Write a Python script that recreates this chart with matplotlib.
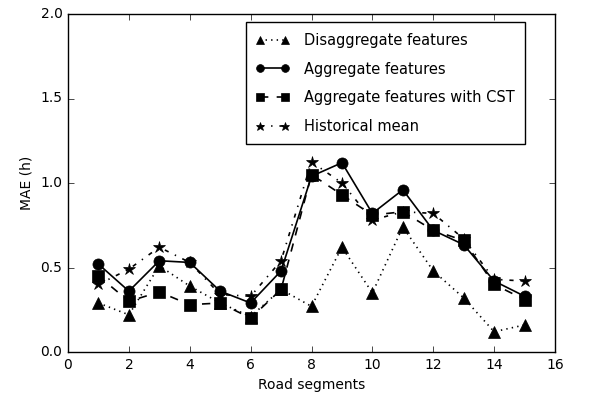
import numpy as np
import matplotlib
matplotlib.use('Agg')
import matplotlib.pyplot as plt

# --- Data ---
segments = np.arange(1, 16)
disaggregate = [0.29, 0.22, 0.51, 0.39, 0.29, 0.21, 0.37, 0.27, 0.62, 0.35, 0.74, 0.48, 0.32, 0.12, 0.16]
aggregate = [0.52, 0.36, 0.54, 0.53, 0.36, 0.29, 0.48, 1.04, 1.12, 0.82, 0.96, 0.72, 0.635, 0.42, 0.33]
aggregate_cst = [0.45, 0.30, 0.355, 0.28, 0.29, 0.20, 0.37, 1.05, 0.93, 0.81, 0.83, 0.72, 0.66, 0.40, 0.31]
historical = [0.40, 0.49, 0.62, 0.53, 0.34, 0.33, 0.54, 1.125, 1.00, 0.78, 0.83, 0.82, 0.67, 0.43, 0.42]

series = [
    ('Disaggregate features', disaggregate, '^', ':'),
    ('Aggregate features', aggregate, 'o', '-'),
    ('Aggregate features with CST', aggregate_cst, 's', '--'),
    ('Historical mean', historical, '*', '-.'),
]

plt.style.use('classic')
fig = plt.figure(figsize=(5.89, 3.98), dpi=100)
fig.patch.set_facecolor('white')
ax = fig.add_axes([68 / 589, 1 - 352 / 398, (555 - 68) / 589, (352 - 14) / 398])

for label, vals, marker, ls in series:
    ms = 9 if marker == '*' else 8
    ax.plot(segments, vals, color='black', linestyle=ls, marker=marker,
            markersize=ms, markerfacecolor='black', markeredgecolor='black',
            linewidth=1.2, label=label)

ax.set_xlim(0, 16)
ax.set_ylim(0, 2.0)
ax.set_xticks(np.arange(0, 17, 2))
ax.set_yticks([0.0, 0.5, 1.0, 1.5, 2.0])
ax.tick_params(labelsize=10)
ax.set_xlabel('Road segments', fontsize=10)
ax.set_ylabel('MAE (h)', fontsize=10)

ax.legend(loc='upper right', bbox_to_anchor=(0.938, 0.975), borderaxespad=0,
          fontsize=10.5, numpoints=2, frameon=True, fancybox=False,
          handlelength=2.3, handletextpad=1.0, borderpad=0.7,
          labelspacing=0.95, markerscale=0.7)

fig.savefig('out.png', dpi=100, facecolor='white')
